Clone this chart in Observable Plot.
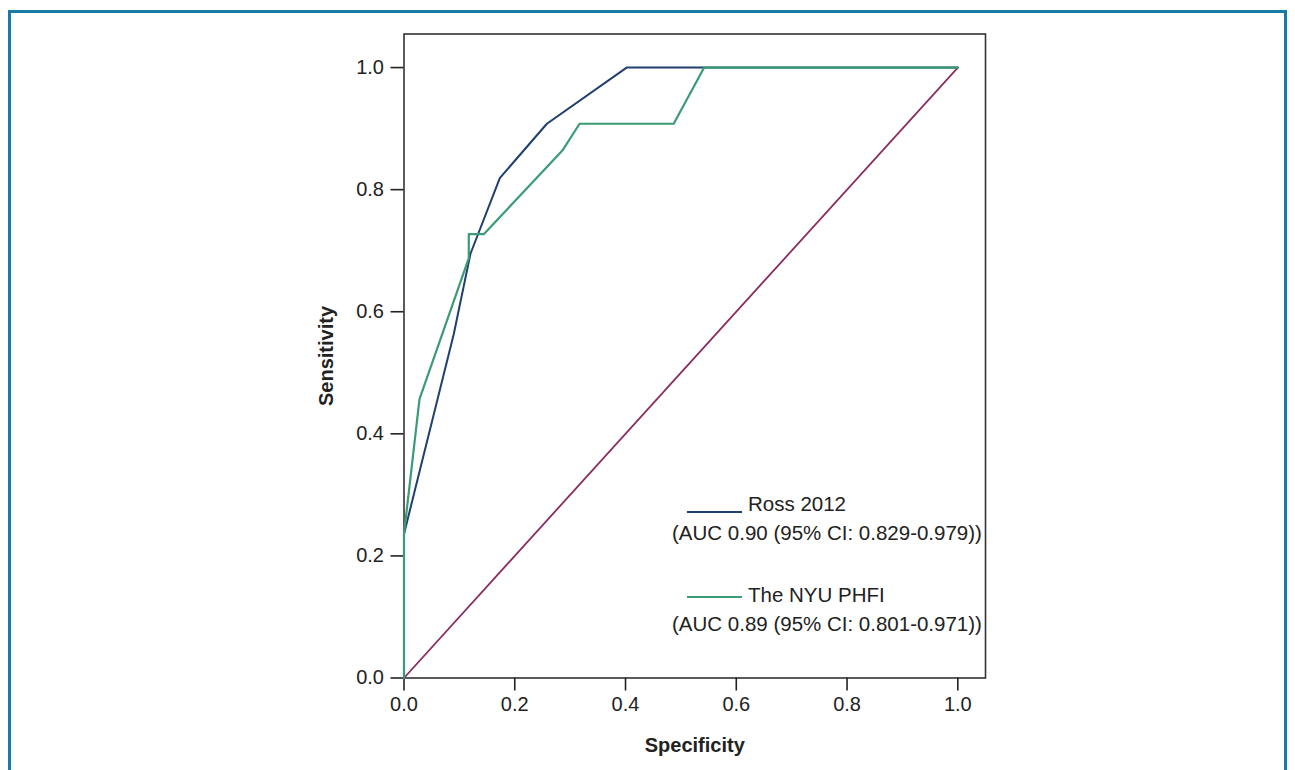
<!DOCTYPE html>
<html>
<head>
<meta charset="utf-8">
<script src="https://cdn.jsdelivr.net/npm/d3@7"></script>
<script src="https://cdn.jsdelivr.net/npm/@observablehq/plot@0.6"></script>
<style>
  html, body { margin: 0; padding: 0; background: #fff; }
  #wrap { position: relative; width: 1295px; height: 770px; overflow: hidden; font-family: "Liberation Sans", Arial, sans-serif; }
  #border { position: absolute; left: 8px; top: 10px; width: 1279px; height: 820px; border: 3px solid #177ba3; box-sizing: border-box; }
  #chart { position: absolute; left: 0; top: 0; }
  .leg { position: absolute; font-size: 20.5px; color: #222; white-space: nowrap; line-height: 1; }
  .sw { position: absolute; height: 2px; }
</style>
</head>
<body>
<div id="wrap">
  <div id="border"></div>
  <div id="chart"></div>
  <div class="sw" style="left:687px; top:511px; width:55px; background:#1e3f6f;"></div>
  <div class="leg" style="left:748px; top:494px;">Ross 2012</div>
  <div class="leg" style="left:672px; top:523px;">(AUC 0.90 (95% CI: 0.829-0.979))</div>
  <div class="sw" style="left:687px; top:596px; width:55px; background:#3a9c74;"></div>
  <div class="leg" style="left:748px; top:585px;">The NYU PHFI</div>
  <div class="leg" style="left:672px; top:614px;">(AUC 0.89 (95% CI: 0.801-0.971))</div>
</div>
<script>
// ROC curve points: x = specificity axis as labelled, y = sensitivity
const rossSpec = [0, 0, 0.09, 0.12, 0.173, 0.258, 0.402, 1];
const rossSens = [0, 0.236, 0.564, 0.695, 0.819, 0.908, 1, 1];
const nyuSpec = [0, 0, 0.028, 0.117, 0.117, 0.144, 0.286, 0.317, 0.487, 0.542, 1];
const nyuSens = [0, 0.236, 0.457, 0.688, 0.727, 0.727, 0.864, 0.908, 0.908, 1, 1];
const refSpec = [0, 1];
const refSens = [0, 1];
const tickValues = [0, 0.2, 0.4, 0.6, 0.8, 1.0];

const toRows = (xs, ys) => xs.map((x, i) => ({x, y: ys[i]}));
const ross = toRows(rossSpec, rossSens);
const nyu = toRows(nyuSpec, nyuSens);
const ref = toRows(refSpec, refSens);
const fmt = d => d.toFixed(1);

const chart = Plot.plot({
  width: 1295,
  height: 770,
  marginLeft: 403.5,
  marginRight: 310,
  marginTop: 33.5,
  marginBottom: 92.5,
  x: {domain: [0, 1.05]},
  y: {domain: [0, 1.055]},
  style: {fontFamily: "'Liberation Sans', Arial, sans-serif", fontSize: "20px", color: "#222", background: "transparent"},
  marks: [
    Plot.frame({stroke: "#333", strokeWidth: 1.6}),
    Plot.axisX({ticks: tickValues, tickFormat: fmt, tickSize: 13, tickPadding: 6, strokeWidth: 1.6, label: null}),
    Plot.axisY({ticks: tickValues, tickFormat: fmt, tickSize: 13, tickPadding: 7, strokeWidth: 1.6, label: null}),
    Plot.text(["Specificity"], {frameAnchor: "bottom", textAnchor: "middle", dy: 74, fontWeight: "bold", fontSize: 20, fill: "#222"}),
    Plot.text(["Sensitivity"], {frameAnchor: "left", textAnchor: "middle", dx: -77, rotate: -90, fontWeight: "bold", fontSize: 20, fill: "#222"}),
    Plot.line(ref, {x: "x", y: "y", stroke: "#8c2d62", strokeWidth: 1.8}),
    Plot.line(ross, {x: "x", y: "y", stroke: "#1e3f6f", strokeWidth: 2}),
    Plot.line(nyu, {x: "x", y: "y", stroke: "#3a9c74", strokeWidth: 2.2})
  ]
});
document.getElementById("chart").append(chart);
</script>
</body>
</html>
